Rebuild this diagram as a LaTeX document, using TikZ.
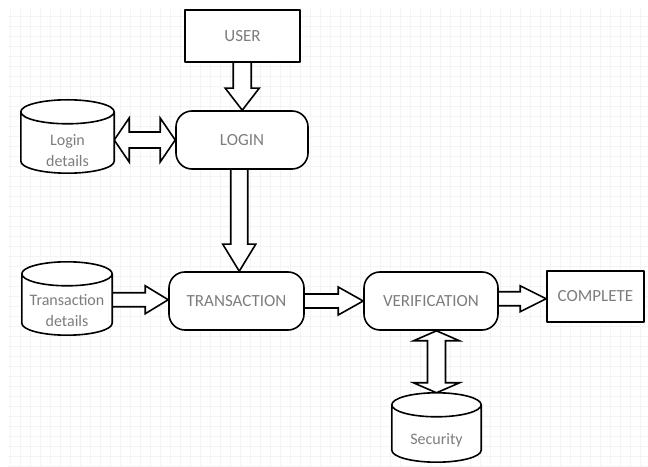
\documentclass[tikz,border=0pt]{standalone}
\usepackage{fontspec}
\setmainfont{Carlito}
\usetikzlibrary{calc}
\pgfdeclarelayer{bg}
\pgfsetlayers{bg,main}
\definecolor{txtgray}{RGB}{125,125,125}
\definecolor{gridgray}{RGB}{244,244,244}
\tikzset{
 outl/.style={draw=black, line width=1.6pt, fill=white, line join=round},
 box/.style={outl, rectangle, inner sep=0pt, font=\fontsize{17}{20}\selectfont, text=txtgray},
 rbox/.style={box, rounded corners=16pt},
 cylbox/.style={rectangle, inner sep=0pt, draw=none},
 cyltext/.style={font=\fontsize{16}{21}\selectfont, text=txtgray, align=center, inner sep=0pt},
 arr/.style={draw=black, line width=1.6pt, fill=white, line join=miter},
 gridline/.style={draw=gridgray, line width=0.6pt}
}
\newcommand\cylout[1]{\draw[outl] let \p1=(#1.north west), \p2=(#1.south east), \n1={(\x2-\x1)/2} in
 (\x1,\y1-12pt) -- (\x1,\y2+12pt) arc[start angle=180, end angle=360, x radius=\n1, y radius=12pt]
 -- (\x2,\y1-12pt) arc[start angle=0, end angle=180, x radius=\n1, y radius=12pt]
 arc[start angle=180, end angle=360, x radius=\n1, y radius=12pt];}
\newcommand\arrdown[5]{\draw[arr] let \p1=(#1.south), \p2=(#2.north), \n1={(\x1+\x2)/2} in
 (\n1-#3pt,\y1) -- (\n1-#3pt,\y2+#5pt) -- (\n1-#4pt,\y2+#5pt) -- (\n1,\y2) -- (\n1+#4pt,\y2+#5pt) -- (\n1+#3pt,\y2+#5pt) -- (\n1+#3pt,\y1);}
\newcommand\arrright[5]{\draw[arr] let \p1=(#1.east), \p2=(#2.west), \n1={(\y1+\y2)/2} in
 (\x1,\n1+#3pt) -- (\x2-#5pt,\n1+#3pt) -- (\x2-#5pt,\n1+#4pt) -- (\x2,\n1) -- (\x2-#5pt,\n1-#4pt) -- (\x2-#5pt,\n1-#3pt) -- (\x1,\n1-#3pt);}
\newcommand\arrdh[5]{\draw[arr] let \p1=(#1.east), \p2=(#2.west) in
 (\x1,\y2) -- (\x1+#5pt,\y2+#4pt) -- (\x1+#5pt,\y2+#3pt) -- (\x2-#5pt,\y2+#3pt) -- (\x2-#5pt,\y2+#4pt) -- (\x2,\y2)
 -- (\x2-#5pt,\y2-#4pt) -- (\x2-#5pt,\y2-#3pt) -- (\x1+#5pt,\y2-#3pt) -- (\x1+#5pt,\y2-#4pt) -- cycle;}
\newcommand\arrdv[5]{\draw[arr] let \p1=(#1.south), \p2=(#2.north) in
 (\x2,\y1) -- (\x2+#4pt,\y1-#5pt) -- (\x2+#3pt,\y1-#5pt) -- (\x2+#3pt,\y2+#5pt) -- (\x2+#4pt,\y2+#5pt) -- (\x2,\y2)
 -- (\x2-#4pt,\y2+#5pt) -- (\x2-#3pt,\y2+#5pt) -- (\x2-#3pt,\y1-#5pt) -- (\x2-#4pt,\y1-#5pt) -- cycle;}
\begin{document}
\begin{tikzpicture}[x=1pt,y=1pt]
\useasboundingbox (0,0) rectangle (648,466);
\begin{pgfonlayer}{bg}
\fill[white] (0,0) rectangle (648,466);
\draw[gridline, step=10pt] (8,0) grid (648,458);
\end{pgfonlayer}
% process boxes
\node[box, minimum width=115pt, minimum height=52pt] (user) at (242.5,430) {USER};
\node[rbox, minimum width=132pt, minimum height=58pt] (login) at (242,326) {LOGIN};
\node[rbox, minimum width=135pt, minimum height=58pt] (trans) at (236.5,165) {TRANSACTION};
\node[rbox, minimum width=134pt, minimum height=58pt] (verif) at (431,165) {VERIFICATION};
\node[box, minimum width=97pt, minimum height=51pt] (complete) at (595.5,169.5) {COMPLETE};
% data stores
\node[cylbox, minimum width=93pt, minimum height=73pt] (logind) at (67.5,329.5) {};
\node[cylbox, minimum width=90pt, minimum height=73pt] (transd) at (67,167.5) {};
\node[cylbox, minimum width=89pt, minimum height=69pt] (secur) at (436.5,38.5) {};
\cylout{logind}
\cylout{transd}
\cylout{secur}
\node[cyltext] (logint) at (67.5,315) {Login\\details};
\node[cyltext] (transt) at (67,155) {Transaction\\details};
\node[cyltext] (secut) at (436.5,26) {Security};
% block arrows
\begin{pgfonlayer}{bg}
\arrdown{user}{login}{9}{17}{22}
\arrdown{login}{trans}{8.5}{16.5}{27}
\arrdh{logind}{login}{8}{22}{15}
\arrright{transd}{trans}{7}{14}{23}
\arrright{trans}{verif}{7}{14}{25}
\arrright{verif}{complete}{7}{13}{26}
\arrdv{verif}{secur}{9}{23}{10}
\end{pgfonlayer}
\end{tikzpicture}
\end{document}
